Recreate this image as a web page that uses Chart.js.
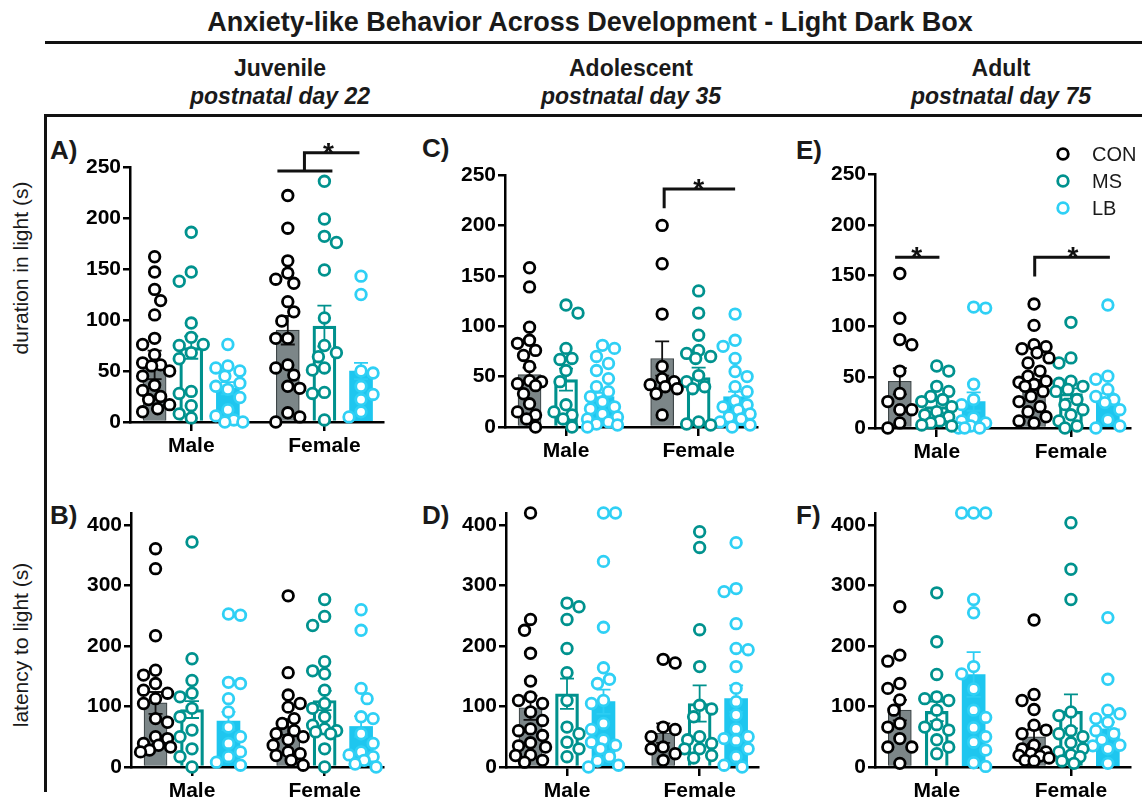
<!DOCTYPE html>
<html><head><meta charset="utf-8">
<script src="https://cdn.jsdelivr.net/npm/chart.js@4.4.0/dist/chart.umd.min.js"></script>
<style>
body{margin:0;background:#fff;}
#wrap{position:relative;width:1142px;height:804px;overflow:hidden;font-family:"Liberation Sans",Arial,sans-serif;color:#1a1a1a;background:#fff;}
.t{position:absolute;white-space:nowrap;line-height:1;}
.c{transform:translateX(-50%);}
.b{font-weight:bold;}
.bar{position:absolute;background:#111;}
canvas{position:absolute;}
</style></head><body>
<div id="wrap">
  <div class="t c b" style="left:590px;top:9px;font-size:27px;">Anxiety-like Behavior Across Development - Light Dark Box</div>
  <div class="bar" style="left:45px;top:41px;width:1097px;height:3px;"></div>
  <div class="t c b" style="left:280px;top:57px;font-size:23px;">Juvenile</div>
  <div class="t c b" style="left:280px;top:85px;font-size:23px;font-style:italic;">postnatal day 22</div>
  <div class="t c b" style="left:631px;top:57px;font-size:23px;">Adolescent</div>
  <div class="t c b" style="left:631px;top:85px;font-size:23px;font-style:italic;">postnatal day 35</div>
  <div class="t c b" style="left:1001px;top:57px;font-size:23px;">Adult</div>
  <div class="t c b" style="left:1001px;top:85px;font-size:23px;font-style:italic;">postnatal day 75</div>
  <div class="bar" style="left:45px;top:114px;width:1097px;height:3px;"></div>
  <div class="bar" style="left:44px;top:114px;width:3px;height:678px;"></div>
  <div class="t" style="left:20px;top:268px;font-size:21px;transform:translate(-50%,-50%) rotate(-90deg);">duration in light (s)</div>
  <div class="t" style="left:20px;top:645px;font-size:21px;transform:translate(-50%,-50%) rotate(-90deg);">latency to light (s)</div>
  <div class="t b" style="left:50px;top:137px;font-size:26px;">A)</div>
  <div class="t b" style="left:50px;top:502px;font-size:26px;">B)</div>
  <div class="t b" style="left:422px;top:135px;font-size:26px;">C)</div>
  <div class="t b" style="left:422px;top:502px;font-size:26px;">D)</div>
  <div class="t b" style="left:796px;top:137px;font-size:26px;">E)</div>
  <div class="t b" style="left:796px;top:502px;font-size:26px;">F)</div>
</div>
<script>
// ---------- categories / groups ----------
const categories = ['Male', 'Female'];
const groups = ['CON', 'MS', 'LB'];
const durTicks = [0, 50, 100, 150, 200, 250];
const latTicks = [0, 100, 200, 300, 400];

// ---------- A) duration in light, juvenile ----------
const A_mean = [[56, 90], [73, 94], [33, 50]];
const A_sem  = [[14, 14], [11, 20], [6, 8]];
const A_CON = [[162,147,130,119,105,82,76,66,58,56,55,50,45,36,31,25,22,17,13,10],
               [222,190,158,146,140,136,118,108,99,82,82,56,53,46,35,33,9,5,0]];
const A_MS  = [[186,147,138,97,83,76,75,68,62,30,28,16,8,4],
               [236,199,182,176,149,102,75,68,64,53,51,29,28,2]];
const A_LB  = [[76,55,53,50,45,38,35,32,24,12,6,2,0,0],
               [143,125,50,48,35,27,22,10,5]];
const A_sig = [{line: [[0.647,246],[1.06,246]]}, {line: [[0.85,246],[0.85,264],[1.263,264]], star: [1.03,264]}];

// ---------- B) latency to light, juvenile ----------
const B_mean = [[106, 66], [95, 110], [76, 67]];
const B_sem  = [[18, 13], [14, 16], [15, 17]];
const B_CON = [[361,328,217,160,152,138,127,122,113,105,80,74,50,47,39,36,33,28,25],
               [283,156,119,105,99,80,72,60,55,50,45,36,25,22,19,11,3]];
const B_MS  = [[372,179,143,122,116,97,83,61,50,30,17,0],
               [277,249,234,174,159,154,127,105,97,83,69,63,60,58,55,30,0]];
const B_LB  = [[253,251,140,138,113,91,66,50,39,25,17,8,3],
               [260,226,130,113,83,80,55,39,25,20,17,11,5,0]];
const B_sig = [];

// ---------- C) duration in light, adolescent ----------
const C_mean = [[52, 68], [47, 49], [30, 30]];
const C_sem  = [[7, 17], [11, 10], [4, 5]];
const C_CON = [[158,139,99,86,83,76,71,60,46,45,43,41,33,23,15,12,8,0],
               [200,162,112,60,48,45,42,40,38,33,12]];
const C_MS  = [[121,113,78,68,67,56,45,22,15,12,8,0],
               [135,113,91,76,73,70,68,51,45,40,38,5,3,2]];
const C_LB  = [[81,78,70,63,56,48,40,35,30,25,20,18,13,10,8,5,3,2,0],
               [112,86,80,68,55,50,40,35,26,22,20,17,13,10,8,5,2,0]];
const C_sig = [{line: [[0.74,217],[0.74,236],[1.275,236]], star: [1.0,236]}];

// ---------- D) latency to light, adolescent ----------
const D_mean = [[98, 56], [121, 105], [108, 113]];
const D_sem  = [[20, 16], [25, 30], [20, 22]];
const D_CON = [[420,244,226,188,142,116,110,105,91,77,63,60,52,40,35,33,20,19,11,8],
               [178,172,66,62,50,33,30,22,11]];
const D_MS  = [[271,265,244,196,156,110,66,55,41,30,17],
               [389,363,227,166,102,96,83,50,45,39,30,30,19,15]];
const D_LB  = [[420,420,340,231,164,145,138,110,105,72,62,45,41,36,30,17,10,3,0],
               [371,295,290,237,196,194,166,130,108,86,63,50,47,44,30,17,3,0]];
const D_sig = [];

// ---------- E) duration in light, adult ----------
const E_mean = [[46, 42], [21, 34], [26, 30]];
const E_sem  = [[13, 5], [6, 5], [9, 4]];
const E_CON = [[152,108,87,82,56,34,26,18,18,5,0],
               [122,101,82,80,78,74,69,64,56,51,46,45,43,41,36,31,26,21,16,11,7,5]];
const E_MS  = [[61,56,41,36,31,28,26,21,16,13,11,7,5,3,2],
               [104,69,64,46,44,41,38,36,28,23,18,13,7,2,0]];
const E_LB  = [[119,118,43,28,23,10,7,5,2,0,0,0],
               [121,51,48,38,31,28,25,18,8,2,0]];
const E_sig = [{line: [[-0.31,168],[0.02,168]], star: [-0.15,168]},
               {line: [[0.73,149],[0.73,168],[1.29,168]], star: [1.015,168]}];

// ---------- F) latency to light, adult ----------
const F_mean = [[94, 50], [92, 92], [153, 63]];
const F_sem  = [[17, 12], [16, 28], [37, 11]];
const F_CON = [[265,185,175,138,130,111,94,72,66,47,33,33,6],
               [243,120,110,95,69,61,55,36,30,25,22,19,18,15,11,10]];
const F_MS  = [[288,207,153,116,113,110,94,70,66,61,45,33,22],
               [404,327,277,91,85,60,55,50,40,30,25,20,17,10,6]];
const F_LB  = [[420,420,420,277,255,166,154,129,94,82,65,50,41,28,7,1],
               [247,145,94,88,80,74,60,55,45,36,35,30,6]];
const F_sig = [];

// ---------- styles ----------
const OFF = [-0.275, 0, 0.275];
const BAR_FILL = ['#7c8688', '#ffffff', '#1ec6ef'];
const BAR_EDGE = ['#3e4648', '#00918d', '#1ec6ef'];
const BAR_BW   = [1.2, 3.2, 0];
const PT_COLOR = ['#000000', '#00928e', '#2fd0f5'];
const ERR_COLOR = ['#111111', '#00918d', '#2ccdf3'];
const FONT = '"Liberation Sans", Arial, sans-serif';
const XMIN = -0.46, XMAX = 1.44;
const YW = 75, PT = 45, XH = 45;
const PR_R = 5.3, PR_BW = 2.8;

function swarm(vals, pxY) {
  const D = 11.5;
  const cand = [0, -6, 6, -12, 12, -3, 3, -9, 9, -15, 15];
  const idx = vals.map((v, i) => i).sort((a, b) => vals[b] - vals[a]);
  const placed = [];
  const offs = new Array(vals.length).fill(0);
  idx.forEach((i, n) => {
    const y = vals[i] * pxY;
    let best = 0, bestScore = -1;
    for (const c0 of cand) {
      const c = (n % 2) ? -c0 : c0;
      let md = Infinity;
      for (const p of placed) { const d = Math.hypot(p.x - c, p.y - y); if (d < md) md = d; }
      if (md >= D) { best = c; break; }
      if (md > bestScore) { bestScore = md; best = c; }
    }
    offs[i] = best;
    placed.push({x: best, y});
  });
  return offs;
}

const overlay = {
  id: 'overlay',
  afterDatasetDraw(chart, args) {
    const ds = chart.data.datasets[args.index];
    if (ds.type !== 'bar') return;
    const ctx = chart.ctx, ys = chart.scales.y;
    ctx.save();
    ctx.strokeStyle = ds.errColor; ctx.lineWidth = 1.8;
    args.meta.data.forEach((el, i) => {
      const m = ds.data[i].y, s = ds.sem[i];
      const y1 = ys.getPixelForValue(m + s), y2 = ys.getPixelForValue(Math.max(0, m - s));
      ctx.beginPath();
      ctx.moveTo(el.x, y1); ctx.lineTo(el.x, y2);
      ctx.moveTo(el.x - 7, y1); ctx.lineTo(el.x + 7, y1);
      ctx.moveTo(el.x - 7, y2); ctx.lineTo(el.x + 7, y2);
      ctx.stroke();
    });
    ctx.restore();
  },
  afterDraw(chart) {
    const o = chart.options.plugins.overlay || {};
    const ctx = chart.ctx, xs = chart.scales.x, ys = chart.scales.y;
    ctx.save();
    ctx.strokeStyle = '#111'; ctx.lineWidth = 3; ctx.lineCap = 'butt'; ctx.lineJoin = 'miter';
    (o.sig || []).forEach(s => {
      ctx.beginPath();
      s.line.forEach((p, k) => {
        const px = xs.getPixelForValue(p[0]), py = ys.getPixelForValue(p[1]);
        if (k === 0) ctx.moveTo(px, py); else ctx.lineTo(px, py);
      });
      ctx.stroke();
      if (s.star) {
        ctx.fillStyle = '#111';
        ctx.font = 'bold 28px ' + FONT;
        ctx.textAlign = 'center'; ctx.textBaseline = 'alphabetic';
        ctx.fillText('*', xs.getPixelForValue(s.star[0]), ys.getPixelForValue(s.star[1]) + 9);
      }
    });
    if (o.legend) {
      const x0 = chart.chartArea.left + 188, y0 = chart.chartArea.top - 20;
      groups.forEach((g, gi) => {
        const y = y0 + gi * 27;
        ctx.beginPath(); ctx.arc(x0, y, PR_R, 0, Math.PI * 2);
        ctx.fillStyle = '#fff'; ctx.fill();
        ctx.lineWidth = PR_BW; ctx.strokeStyle = PT_COLOR[gi]; ctx.stroke();
        ctx.fillStyle = '#1a1a1a'; ctx.font = '20px ' + FONT;
        ctx.textAlign = 'left'; ctx.textBaseline = 'middle';
        ctx.fillText(g, x0 + 29, y + 1);
      });
    }
    ctx.restore();
  }
};

function makePanel(L, ymax, tickVals, means, sems, pts, sig, legend) {
  const wrap = document.getElementById('wrap');
  const PR = L.pr || 10;
  const left = L.axisX - YW, ctop = L.top - PT;
  const W = L.right + PR - left, H = PT + (L.bottom - L.top) + XH;
  const cv = document.createElement('canvas');
  cv.width = W; cv.height = H;
  cv.style.left = left + 'px'; cv.style.top = ctop + 'px';
  cv.style.width = W + 'px'; cv.style.height = H + 'px';
  wrap.appendChild(cv);
  const pxX = (L.right - L.axisX) / (XMAX - XMIN);
  const pxY = (L.bottom - L.top) / ymax;
  const datasets = [];
  groups.forEach((g, gi) => {
    datasets.push({
      type: 'bar', label: g,
      data: categories.map((c, ci) => ({x: ci + OFF[gi], y: means[gi][ci]})),
      backgroundColor: BAR_FILL[gi], borderColor: BAR_EDGE[gi], borderWidth: BAR_BW[gi],
      barThickness: 23, grouped: false, order: 2, sem: sems[gi], errColor: ERR_COLOR[gi]
    });
  });
  groups.forEach((g, gi) => {
    const data = [];
    categories.forEach((c, ci) => {
      const vals = pts[gi][ci];
      const offs = swarm(vals, pxY);
      vals.forEach((v, k) => data.push({x: ci + OFF[gi] + offs[k] / pxX, y: v}));
    });
    datasets.push({
      type: 'scatter', label: g, data,
      pointRadius: PR_R, pointBorderWidth: PR_BW, pointBackgroundColor: '#ffffff',
      pointBorderColor: PT_COLOR[gi], order: 1, clip: false, showLine: false
    });
  });
  const tickFont = {family: FONT, size: 21, weight: 'bold'};
  new Chart(cv, {
    type: 'scatter',
    data: {datasets},
    options: {
      responsive: false, animation: false, devicePixelRatio: 1,
      layout: {padding: {top: PT, right: PR, left: 0, bottom: 0}},
      events: [],
      plugins: {legend: {display: false}, tooltip: {enabled: false}, overlay: {sig, legend}},
      scales: {
        x: {
          type: 'linear', min: XMIN, max: XMAX, offset: false,
          afterBuildTicks: s => { s.ticks = categories.map((c, i) => ({value: i})); },
          afterFit: s => { s.height = XH; },
          ticks: {callback: v => categories[v], font: tickFont, color: '#000', padding: 3, maxRotation: 0, autoSkip: false},
          grid: {display: true, offset: false, drawOnChartArea: false, drawTicks: true, tickLength: 9, color: '#000', lineWidth: 2.5},
          border: {display: true, color: '#000', width: 2.5}
        },
        y: {
          type: 'linear', min: 0, max: ymax,
          afterBuildTicks: s => { s.ticks = tickVals.map(v => ({value: v})); },
          afterFit: s => { s.width = YW; },
          ticks: {font: tickFont, color: '#000', padding: 2},
          grid: {display: true, drawOnChartArea: false, drawTicks: true, tickLength: 7, color: '#000', lineWidth: 2.5},
          border: {display: true, color: '#000', width: 2.5}
        }
      }
    },
    plugins: [overlay]
  });
}

makePanel({axisX:130, top:167, bottom:422, right:383}, 250, durTicks, A_mean, A_sem, [A_CON, A_MS, A_LB], A_sig, false);
makePanel({axisX:505, top:175, bottom:427, right:757}, 250, durTicks, C_mean, C_sem, [C_CON, C_MS, C_LB], C_sig, false);
makePanel({axisX:875, top:174, bottom:428, right:1130, pr:12}, 250, durTicks, E_mean, E_sem, [E_CON, E_MS, E_LB], E_sig, true);
makePanel({axisX:131, top:513, bottom:767, right:383}, 420, latTicks, B_mean, B_sem, [B_CON, B_MS, B_LB], B_sig, false);
makePanel({axisX:506, top:513, bottom:767, right:758}, 420, latTicks, D_mean, D_sem, [D_CON, D_MS, D_LB], D_sig, false);
makePanel({axisX:875, top:513, bottom:767, right:1130, pr:12}, 420, latTicks, F_mean, F_sem, [F_CON, F_MS, F_LB], F_sig, false);
</script>
</body></html>
